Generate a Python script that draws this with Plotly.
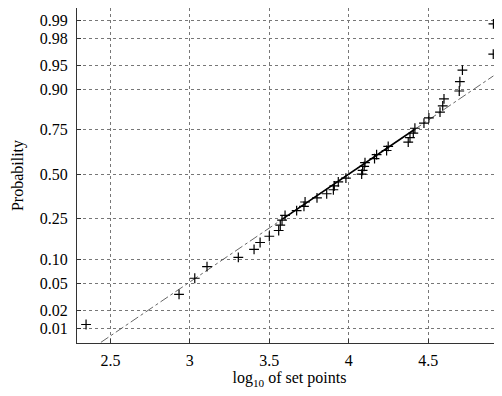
import plotly.graph_objects as go
from statistics import NormalDist

# Sorted sample values (log10 of set points)
log_set_points = [
    2.347, 2.932, 3.031, 3.108, 3.305, 3.404, 3.442, 3.500, 3.559, 3.569,
    3.580, 3.599, 3.672, 3.718, 3.725, 3.800, 3.861, 3.903, 3.909, 3.934,
    3.982, 4.081, 4.087, 4.097, 4.102, 4.162, 4.175, 4.238, 4.248, 4.374,
    4.385, 4.406, 4.416, 4.473, 4.504, 4.574, 4.591, 4.599, 4.695, 4.699,
    4.715, 4.909, 4.910,
]
prob_ticks = [0.01, 0.02, 0.05, 0.10, 0.25, 0.50, 0.75, 0.90, 0.95, 0.98, 0.99]
prob_labels = ["0.01", "0.02", "0.05", "0.10", "0.25", "0.50", "0.75", "0.90", "0.95", "0.98", "0.99"]
x_ticks = [2.5, 3, 3.5, 4, 4.5]
x_labels = ["2.5", "3", "3.5", "4", "4.5"]

nd = NormalDist()
n = len(log_set_points)
xs = sorted(log_set_points)
zs = [nd.inv_cdf((i - 0.5) / n) for i in range(1, n + 1)]


def prctile(v, p):
    # MATLAB-style percentile
    v = sorted(v)
    pos = p / 100.0 * len(v) + 0.5
    if pos <= 1:
        return v[0]
    if pos >= len(v):
        return v[-1]
    k = int(pos)
    f = pos - k
    return v[k - 1] + f * (v[k] - v[k - 1])


q1x, q3x = prctile(xs, 25), prctile(xs, 75)
q1y, q3y = prctile(zs, 25), prctile(zs, 75)
slope = (q3y - q1y) / (q3x - q1x)
cx, cy = (q1x + q3x) / 2, (q1y + q3y) / 2
minx, maxx = min(xs), max(xs)
ext_x = [minx, maxx]
ext_y = [cy - slope * (cx - minx), cy + slope * (maxx - cx)]

zlim = nd.inv_cdf(1 - 0.25 / n)

fig = go.Figure()
fig.add_trace(go.Scatter(
    x=ext_x, y=ext_y, mode="lines",
    line=dict(color="#555555", width=0.9, dash="dashdot"),
    hoverinfo="skip", showlegend=False,
))
fig.add_trace(go.Scatter(
    x=[q1x, q3x], y=[q1y, q3y], mode="lines",
    line=dict(color="black", width=1.6),
    hoverinfo="skip", showlegend=False,
))
fig.add_trace(go.Scatter(
    x=xs, y=zs, mode="markers",
    marker=dict(symbol="cross-thin", size=7, line=dict(color="black", width=1.2)),
    showlegend=False,
))

font = dict(family="Liberation Serif", size=16, color="black")

# The page adds an 8px body margin, so the figure is 8px smaller than the window.
fig.update_layout(
    width=494, height=388,
    margin=dict(l=69, r=0, t=0, b=53),
    paper_bgcolor="white", plot_bgcolor="white",
    font=font,
    xaxis=dict(
        range=[2.29, 4.964],
        tickvals=x_ticks, ticktext=x_labels,
        ticks="inside", ticklen=4, tickcolor="#333333",
        showline=True, linecolor="#333333", linewidth=1, mirror=True,
        showgrid=True, gridcolor="#777777", griddash="dot", gridwidth=1,
        zeroline=False,
        ticklabelstandoff=3,
        title=dict(text="log<sub>10</sub> of set points", font=font, standoff=3),
        tickfont=font,
    ),
    yaxis=dict(
        range=[-zlim - 0.025, zlim - 0.015],
        tickvals=[nd.inv_cdf(p) for p in prob_ticks], ticktext=prob_labels,
        ticks="inside", ticklen=4, tickcolor="#333333",
        showline=True, linecolor="#333333", linewidth=1, mirror=True,
        showgrid=True, gridcolor="#777777", griddash="dot", gridwidth=1,
        zeroline=False,
        ticklabelstandoff=5,
        title=dict(text="Probability", font=font, standoff=12),
        tickfont=font,
    ),
)

fig.write_html("out.html", config={"displayModeBar": False})
